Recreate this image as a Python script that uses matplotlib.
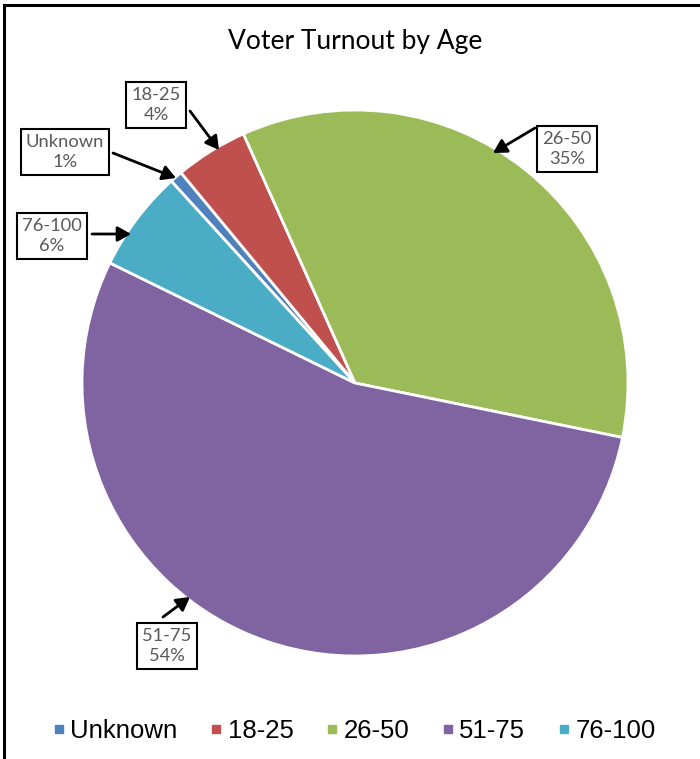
import matplotlib
matplotlib.use("Agg")
import matplotlib.pyplot as plt
from matplotlib.lines import Line2D

categories = ["Unknown", "18-25", "26-50", "51-75", "76-100"]
values = [0.75, 4.3, 34.9, 54.05, 6.0]
colors = ["#4F81BD", "#C0504D", "#9BBB59", "#8064A2", "#4BACC6"]
title = "Voter Turnout by Age"

W, H = 700, 759
fig = plt.figure(figsize=(W / 100, H / 100), dpi=100)

# pie axes: center (355,383) radius 273 px in image coords
cx, cy, r = 355, 383, 273
ax = fig.add_axes([(cx - r) / W, (H - cy - r) / H, 2 * r / W, 2 * r / H])
ax.pie(values, colors=colors, startangle=132.3, counterclock=False,
       wedgeprops=dict(edgecolor="white", linewidth=2), radius=1)
ax.set_xlim(-1, 1)
ax.set_ylim(-1, 1)
ax.set_aspect("auto")
ax.axis("off")

fig.text(cx / W, 1 - 41 / H, title, ha="center", va="center",
         fontsize=19, family="Lato", fontweight="normal", color="#000000")

# label boxes (text centre, arrow tail, arrow head) in image pixels
label_pos = {
    "Unknown": ((65, 152), (113, 153), (176, 178)),
    "18-25": ((156, 105), (190, 111), (219, 150)),
    "26-50": ((567, 149), (535, 128), (493, 153)),
    "51-75": ((167, 646), (163, 617), (190, 597)),
    "76-100": ((52, 236), (92, 234), (131, 234)),
}
for cat, val in zip(categories, values):
    (tx, ty), (ax0, ay0), (ax1, ay1) = label_pos[cat]
    fig.text(tx / W, 1 - ty / H, f"{cat}\n{round(val)}%", ha="center", va="center",
             fontsize=13.2, family="Lato", color="#595959", linespacing=1.3,
             bbox=dict(boxstyle="square,pad=0.28", facecolor="white",
                       edgecolor="black", linewidth=1.5))
    fig.add_artist(plt.Annotation("", xy=(ax1, H - ay1), xytext=(ax0, H - ay0),
                                  xycoords="figure pixels", textcoords="figure pixels",
                                  arrowprops=dict(arrowstyle="-|>,head_length=0.8,head_width=0.45",
                                                  color="black", lw=2, shrinkA=0, shrinkB=0)))

handles = [Line2D([], [], marker="s", linestyle="none", markersize=5.5,
                  markerfacecolor=c, markeredgecolor=c) for c in colors]
fig.legend(handles, categories, loc="center", bbox_to_anchor=(354 / W, 1 - 731 / H),
           ncol=5, frameon=False, handletextpad=0.2,
           columnspacing=1.25, handlelength=0.5,
           prop=dict(family="Liberation Sans", size=18.5))

# frame lines
fig.add_artist(Line2D([4 / W, 4 / W], [0, 1 - 5 / H], transform=fig.transFigure,
                      color="black", lw=2.2))
fig.add_artist(Line2D([4 / W, 1], [1 - 5 / H, 1 - 5 / H], transform=fig.transFigure,
                      color="black", lw=2.2))

fig.savefig("out.png", dpi=100)
